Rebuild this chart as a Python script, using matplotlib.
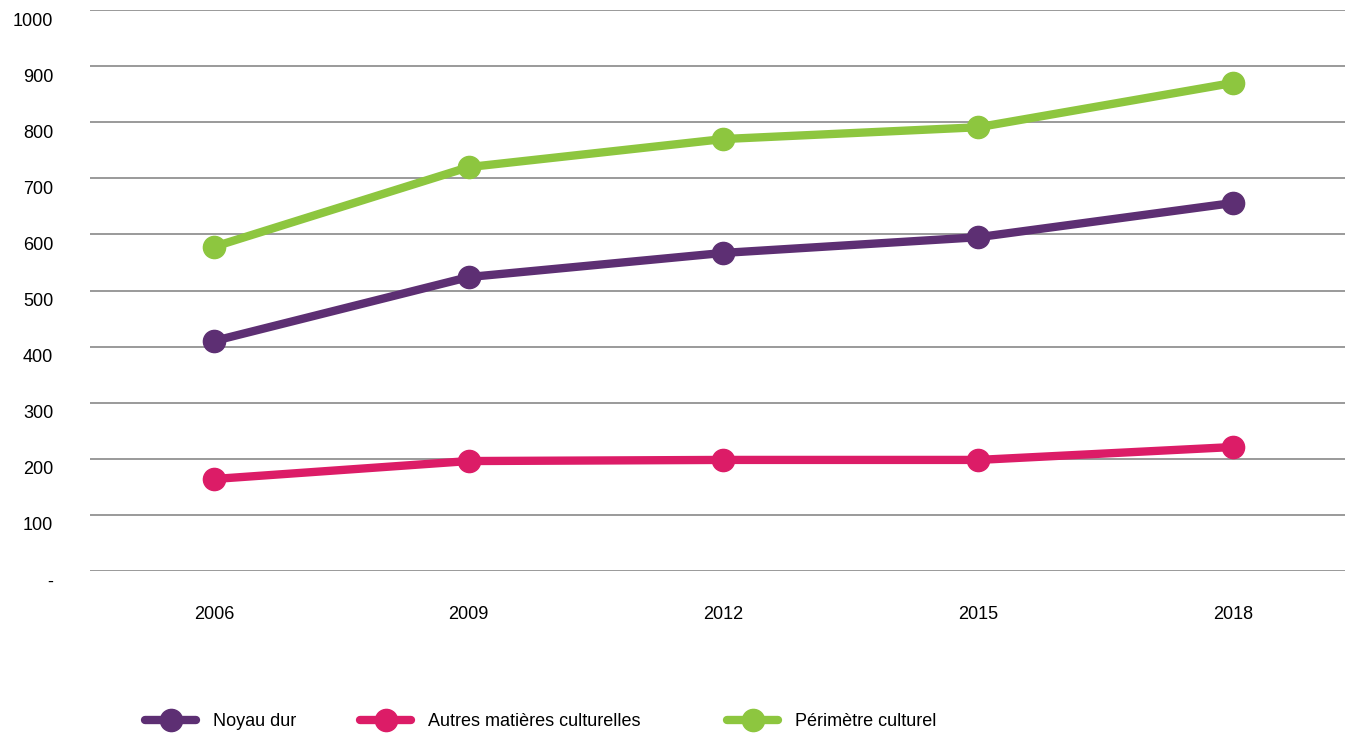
import matplotlib.pyplot as plt
from matplotlib.transforms import ScaledTranslation
from matplotlib import font_manager

years = ['2006', '2009', '2012', '2015', '2018']
noyau_dur = [410, 524, 567, 595, 656]
autres_matieres = [164, 196, 198, 198, 221]
perimetre = [578, 720, 770, 791, 870]

y_ticks = [0, 100, 200, 300, 400, 500, 600, 700, 800, 900, 1000]
y_tick_labels = ['-', '100', '200', '300', '400', '500', '600', '700', '800', '900', '1000']

SERIES = [
    ('Noyau dur', noyau_dur, '#5d2f73'),
    ('Autres matières culturelles', autres_matieres, '#dc1c67'),
    ('Périmètre culturel', perimetre, '#8dc63f'),
]
# left edge (px) of each legend entry along the bottom
LEGEND_X = [145, 360, 727]

names = {f.name for f in font_manager.fontManager.ttflist}
family = 'Liberation Sans Narrow' if 'Liberation Sans Narrow' in names else 'Liberation Sans'
plt.rcParams['font.family'] = [family, 'DejaVu Sans']

fig = plt.figure(figsize=(13.45, 7.37), dpi=100)
ax = fig.add_axes([90 / 1345, 1 - 571 / 737, 1 - 90 / 1345, (571 - 10) / 737])

x = list(range(len(years)))
lines = []
for label, values, color in SERIES:
    ln, = ax.plot(x, values, color=color, linewidth=6, marker='o', markersize=16,
                  solid_capstyle='round', label=label, zorder=3)
    lines.append(ln)

ax.set_xlim(-0.487, 4.44)
ax.set_ylim(0, 1000)
ax.set_xticks(x)
ax.set_xticklabels(years, fontsize=13)
ax.set_yticks(y_ticks)
ax.set_yticklabels(y_tick_labels, fontsize=13)
ax.tick_params(axis='both', length=0)
ax.tick_params(axis='x', pad=25)
ax.tick_params(axis='y', pad=26.5)

# labels sit a little below their gridlines
offset = ScaledTranslation(0, -0.09, fig.dpi_scale_trans)
for lbl in ax.get_yticklabels():
    lbl.set_transform(lbl.get_transform() + offset)

ax.grid(axis='y', color='#9a9a9a', linewidth=1.4)
ax.set_axisbelow(True)
for spine in ax.spines.values():
    spine.set_visible(False)

for ln, lx in zip(lines, LEGEND_X):
    fig.legend(handles=[ln], loc='center left', bbox_to_anchor=(lx / 1345, 1 - 722 / 737),
               frameon=False, fontsize=13, handlelength=2.85, handletextpad=0.9,
               borderpad=0, borderaxespad=0)

fig.savefig('out.png', dpi=100)
